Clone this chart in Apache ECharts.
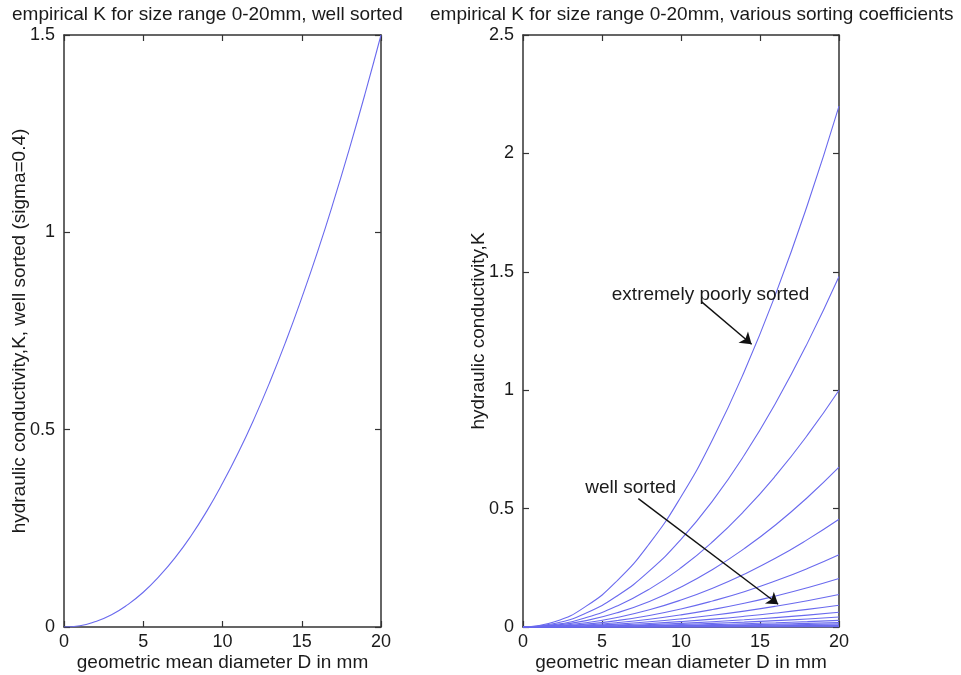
<!DOCTYPE html>
<html><head><meta charset="utf-8">
<script src="https://cdn.jsdelivr.net/npm/echarts@6/dist/echarts.min.js"></script>
<style>html,body{margin:0;padding:0;background:#fff}#c{width:961px;height:675px}</style>
</head><body><div id="c"></div>
<script>
// ---- data ----
const leftTitle = 'empirical K for size range 0-20mm, well sorted';
const rightTitle = 'empirical K for size range 0-20mm, various sorting coefficients';
const xName = 'geometric mean diameter D in mm';
const leftYName = 'hydraulic conductivity,K, well sorted (sigma=0.4)';
const rightYName = 'hydraulic conductivity,K';

const leftD = [0,1,2,3,4,5,6,7,8,9,10,11,12,13,14,15,16,17,18,19,20];
const leftK = [0,0.003,0.014,0.031,0.056,0.088,0.128,0.175,0.230,0.293,0.364,0.442,0.528,0.622,0.724,0.834,0.951,1.077,1.211,1.352,1.50];

const rightD = [0,2,4,6,8,10,12,14,16,18,20];
const rightK1  = [0,0.022,0.088,0.198,0.352,0.55,0.792,1.078,1.408,1.782,2.20];
const rightK2  = [0,0.0148,0.0592,0.1332,0.2368,0.37,0.5328,0.7252,0.9472,1.1988,1.48];
const rightK3  = [0,0.01,0.04,0.09,0.16,0.25,0.36,0.49,0.64,0.81,1.00];
const rightK4  = [0,0.0068,0.027,0.0608,0.108,0.169,0.243,0.331,0.432,0.547,0.675];
const rightK5  = [0,0.0046,0.0182,0.041,0.0728,0.114,0.164,0.223,0.291,0.369,0.455];
const rightK6  = [0,0.0031,0.0122,0.0275,0.0488,0.0763,0.110,0.149,0.195,0.247,0.305];
const rightK7  = [0,0.0021,0.0082,0.0185,0.0328,0.0513,0.0738,0.100,0.131,0.166,0.205];
const rightK8  = [0,0.0014,0.0055,0.0123,0.0219,0.0343,0.0493,0.0671,0.0877,0.111,0.137];
const rightK9  = [0,0.0009,0.0037,0.0083,0.0147,0.023,0.0331,0.0451,0.0589,0.0745,0.092];
const rightK10 = [0,0.0006,0.0025,0.0056,0.0099,0.0155,0.0223,0.0304,0.0397,0.0502,0.062];
const rightK11 = [0,0.0004,0.0017,0.0038,0.0067,0.0105,0.0151,0.0206,0.0269,0.034,0.042];
const rightK12 = [0,0.0003,0.0011,0.0025,0.0045,0.007,0.0101,0.0137,0.0179,0.0227,0.028];
const rightK13 = [0,0.0002,0.0008,0.0017,0.003,0.0048,0.0068,0.0093,0.0122,0.0154,0.019];
const rightK14 = [0,0.0001,0.0005,0.0012,0.0021,0.0033,0.0047,0.0064,0.0083,0.0105,0.013];
const rightK15 = [0,0.0001,0.0003,0.0008,0.0014,0.0021,0.0031,0.0042,0.0054,0.0069,0.0085];
const rightK16 = [0,0.0001,0.0002,0.0005,0.0009,0.0014,0.0021,0.0028,0.0036,0.0046,0.0057];
const rightK17 = [0,0,0.0002,0.0003,0.0006,0.001,0.0014,0.0019,0.0024,0.0031,0.0038];
const rightK18 = [0,0,0.0001,0.0002,0.0004,0.0006,0.0009,0.0012,0.0016,0.002,0.0025];
const rightK19 = [0,0,0.0001,0.0002,0.0003,0.0004,0.0006,0.0008,0.0011,0.0014,0.0017];
const rightK20 = [0,0,0,0.0001,0.0002,0.0003,0.0004,0.0005,0.0007,0.0009,0.0011];
const rightCurves = [rightK1,rightK2,rightK3,rightK4,rightK5,rightK6,rightK7,rightK8,rightK9,rightK10,
  rightK11,rightK12,rightK13,rightK14,rightK15,rightK16,rightK17,rightK18,rightK19,rightK20];

const xTicks = {min:0, max:20, interval:5};
const leftY = {min:0, max:1.5, interval:0.5};
const rightY = {min:0, max:2.5, interval:0.5};

// annotations (data coordinates of the right panel)
const annoPoor = {text:'extremely poorly sorted', at:[5.62,1.403], from:[11.31,1.373], to:[14.47,1.194]};
const annoWell = {text:'well sorted', at:[3.94,0.590], from:[7.30,0.542], to:[16.15,0.096]};

// ---- chart ----
const FONT = "'Liberation Sans', Arial, Helvetica, sans-serif";
const AX = '#333';
const TXT = '#1a1a1a';
const LINE = '#6a6aee';
const FS = 19, TFS = 18;

function xAxes(g){
  const base = {type:'value', gridIndex:g, min:xTicks.min, max:xTicks.max, interval:xTicks.interval,
    axisLine:{show:true, onZero:false, lineStyle:{color:AX, width:1.5}},
    axisTick:{show:true, inside:true, length:6, lineStyle:{color:AX, width:1.2}},
    splitLine:{show:false}};
  return [
    Object.assign({}, base, {position:'bottom',
      axisLabel:{show:true, fontSize:TFS, color:TXT, fontFamily:FONT, margin:6},
      name:xName, nameLocation:'middle', nameGap:26, nameMoveOverlap:false,
      nameTextStyle:{fontSize:FS, color:TXT, fontFamily:FONT}}),
    Object.assign({}, base, {position:'top', axisLabel:{show:false}})
  ];
}
function yAxes(g, r, name, gap){
  const base = {type:'value', gridIndex:g, min:r.min, max:r.max, interval:r.interval,
    axisLine:{show:true, onZero:false, lineStyle:{color:AX, width:1.5}},
    axisTick:{show:true, inside:true, length:6, lineStyle:{color:AX, width:1.2}},
    splitLine:{show:false}};
  return [
    Object.assign({}, base, {position:'left',
      axisLabel:{show:true, fontSize:TFS, color:TXT, fontFamily:FONT, margin:9},
      name:name, nameLocation:'middle', nameGap:gap, nameRotate:90, nameMoveOverlap:false,
      nameTextStyle:{fontSize:FS, color:TXT, fontFamily:FONT}}),
    Object.assign({}, base, {position:'right', axisLabel:{show:false}})
  ];
}

const series = [];
series.push({type:'line', xAxisIndex:0, yAxisIndex:0, smooth:true, showSymbol:false, symbol:'none',
  lineStyle:{color:LINE, width:1.1}, data:leftD.map((d,i)=>[d,leftK[i]]), animation:false});
rightCurves.forEach((arr,ci)=>{
  const s = {type:'line', xAxisIndex:2, yAxisIndex:2, smooth:true, symbol:'none',
    lineStyle:{color:LINE, width:1.1}, data:rightD.map((d,i)=>[d,arr[i]]), animation:false, z:2};
  if(ci===0){
    s.markLine = {silent:true, animation:false, symbol:['none','arrow'], symbolSize:11,
      label:{show:false}, lineStyle:{color:'#111', width:1.4, type:'solid'},
      data:[
        [{coord:annoPoor.from},{coord:annoPoor.to}],
        [{coord:annoWell.from},{coord:annoWell.to}]
      ]};
  }
  series.push(s);
});

const chart = echarts.init(document.getElementById('c'), null, {renderer:'canvas'});
chart.setOption({
  animation:false,
  backgroundColor:'#fff',
  grid:[
    {left:64, right:580, top:35, bottom:48, containLabel:false, outerBoundsMode:'none'},
    {left:523, right:122, top:35, bottom:48, containLabel:false, outerBoundsMode:'none'}
  ],
  xAxis:[...xAxes(0), ...xAxes(1)],
  yAxis:[...yAxes(0,leftY,leftYName,35), ...yAxes(1,rightY,rightYName,35)],
  series:series
});

// titles and annotation texts
function textAt(anno){
  const p = chart.convertToPixel({xAxisIndex:2, yAxisIndex:2}, anno.at);
  return {type:'text', x:p[0], y:p[1], z:100,
    style:{text:anno.text, fontSize:FS, fill:TXT, fontFamily:FONT, verticalAlign:'middle'}};
}
chart.setOption({graphic:[
  {type:'text', x:12, y:15, style:{text:leftTitle, fontSize:FS, fill:TXT, fontFamily:FONT, verticalAlign:'middle'}},
  {type:'text', x:430, y:15, style:{text:rightTitle, fontSize:FS, fill:TXT, fontFamily:FONT, verticalAlign:'middle'}},
  textAt(annoPoor),
  textAt(annoWell)
]});
</script>
</body></html>
